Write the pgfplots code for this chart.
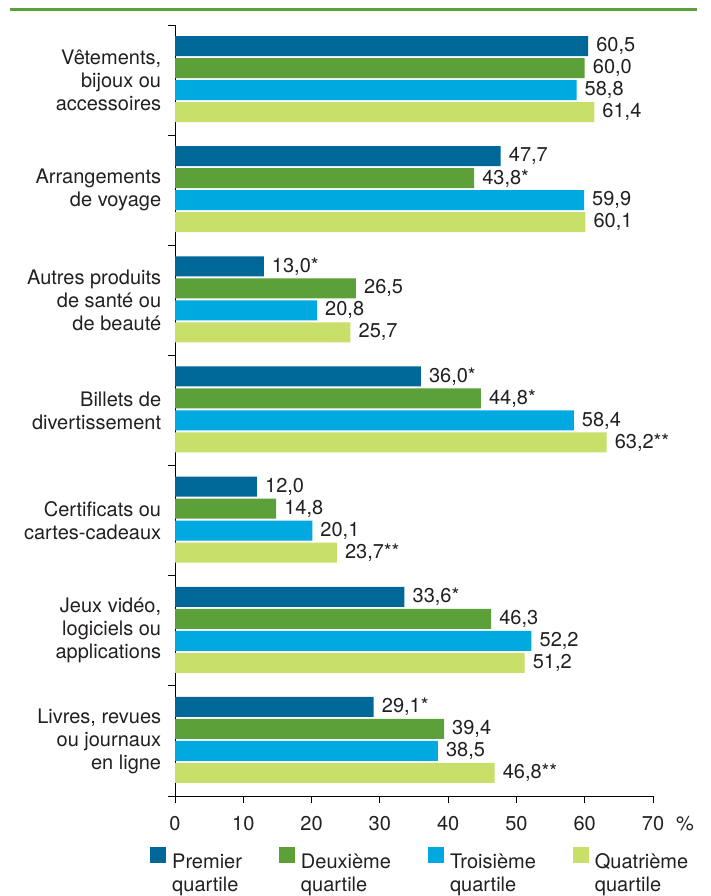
\documentclass[border=0pt]{standalone}
\usepackage{fontspec}
\setmainfont{TeX Gyre Heros}
\usepackage{pgfplots}
\usepackage{pgfplotstable}
\pgfplotsset{compat=1.18}
\definecolor{cA}{RGB}{0,103,153}
\definecolor{cB}{RGB}{92,160,58}
\definecolor{cC}{RGB}{0,169,224}
\definecolor{cD}{RGB}{200,223,106}
\definecolor{txt}{RGB}{35,31,32}

\pgfplotstableread{
y x lab
6 60.5 60,5
5 47.7 47,7
4 13.0 13,0*
3 36.0 36,0*
2 12.0 12,0
1 33.6 33,6*
0 29.1 29,1*
}\dataA
\pgfplotstableread{
y x lab
6 60.0 60,0
5 43.8 43,8*
4 26.5 26,5
3 44.8 44,8*
2 14.8 14,8
1 46.3 46,3
0 39.4 39,4
}\dataB
\pgfplotstableread{
y x lab
6 58.8 58,8
5 59.9 59,9
4 20.8 20,8
3 58.4 58,4
2 20.1 20,1
1 52.2 52,2
0 38.5 38,5
}\dataC
\pgfplotstableread{
y x lab
6 61.4 61,4
5 60.1 60,1
4 25.7 25,7
3 63.2 63,2**
2 23.7 23,7**
1 51.2 51,2
0 46.8 46,8**
}\dataD

\begin{document}
\fontsize{20pt}{23pt}\selectfont
\begin{tikzpicture}[font=\fontsize{20pt}{23pt}\selectfont, text=txt]
\path[use as bounding box] (0,0) rectangle (710pt,896pt);
\draw[cB, line width=3.5pt] (10pt,886.5pt) -- (697pt,886.5pt);
\begin{axis}[
  at={(175pt,100pt)}, anchor=south west,
  scale only axis, width=478pt, height=771pt,
  xmin=0, xmax=70, ymin=-0.5, ymax=6.5,
  xbar, bar width=20pt,
  axis lines*=left,
  axis line style={line width=0.8pt, black},
  tick align=outside, major tick length=7pt,
  /pgf/number format/assume math mode=true,
  xtick={0,10,...,70},
  xticklabels={0,10,20,30,40,50,60,{70\rlap{\hspace{12pt}\%}}},
  x tick style={line width=0.8pt, black},
  xticklabel style={yshift=-6pt, text=txt},
  ytick={0,...,6},
  yticklabels={{Livres, revues\\ou journaux\\en ligne},
               {Jeux vidéo,\\logiciels ou\\applications},
               {Certificats ou\\cartes-cadeaux},
               {Billets de\\divertissement},
               {Autres produits\\de santé ou\\de beauté},
               {Arrangements\\de voyage},
               {Vêtements,\\bijoux ou\\accessoires}},
  yticklabel style={align=right, text=txt},
  y tick style={draw=none},
  extra y ticks={-0.5,0.5,...,6.5},
  extra y tick labels={},
  extra y tick style={y tick style={draw=black, line width=0.8pt}},
  point meta=explicit symbolic,
  nodes near coords,
  nodes near coords style={font=\fontsize{20pt}{23pt}\selectfont, text=txt, anchor=west, inner sep=0pt, xshift=8pt},
  legend columns=4,
  legend style={draw=none, fill=none, inner sep=0pt, nodes={inner sep=0pt},
    at={(axis description cs:-0.0523,-0.0661)}, anchor=north west,
    /tikz/every odd column/.append style={column sep=6pt},
    /tikz/every even column/.append style={column sep=37pt}},
  legend image code/.code={\fill[#1] (0pt,-1pt) rectangle (16pt,15pt);},
]
\addplot[fill=cA, draw=none, bar shift=34pt] table[x=x, y=y, meta=lab] {\dataA};
\addplot[fill=cB, draw=none, bar shift=12pt] table[x=x, y=y, meta=lab] {\dataB};
\addplot[fill=cC, draw=none, bar shift=-10pt] table[x=x, y=y, meta=lab] {\dataC};
\addplot[fill=cD, draw=none, bar shift=-32pt] table[x=x, y=y, meta=lab] {\dataD};
\addlegendentry{\begin{tabular}[t]{@{}l@{}}Premier\\quartile\end{tabular}}
\addlegendentry{\begin{tabular}[t]{@{}l@{}}Deuxième\\quartile\end{tabular}}
\addlegendentry{\begin{tabular}[t]{@{}l@{}}Troisième\\quartile\end{tabular}}
\addlegendentry{\begin{tabular}[t]{@{}l@{}}Quatrième\\quartile\end{tabular}}
\end{axis}
\end{tikzpicture}
\end{document}
